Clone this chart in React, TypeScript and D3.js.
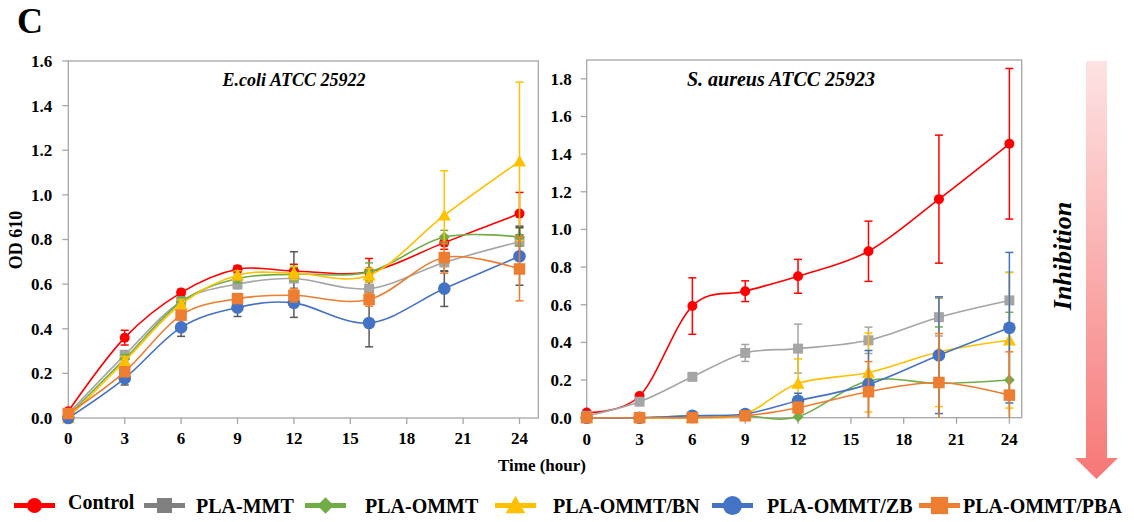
import React from 'react';
import * as d3 from 'd3';

// sampling times (hour)
const times = [0, 3, 6, 9, 12, 16, 20, 24];
const xTicks = [0, 3, 6, 9, 12, 15, 18, 21, 24];

const seriesNames = ['Control', 'PLA-MMT', 'PLA-OMMT', 'PLA-OMMT/BN', 'PLA-OMMT/ZB', 'PLA-OMMT/PBA'];
const seriesColors = ['#ff0000', '#a5a5a5', '#70ad47', '#ffc000', '#4472c4', '#ed7d31'];
const seriesShapes = ['circle', 'square', 'diamond', 'triangle', 'bigcircle', 'bigsquare'];

// E.coli ATCC 25922
const ecoliControl = [0.03, 0.36, 0.562, 0.667, 0.659, 0.655, 0.786, 0.916];
const ecoliMMT = [0.02, 0.282, 0.523, 0.6, 0.625, 0.58, 0.697, 0.79];
const ecoliOMMT = [0.01, 0.265, 0.52, 0.625, 0.645, 0.655, 0.811, 0.811];
const ecoliBN = [0.0, 0.255, 0.51, 0.64, 0.65, 0.64, 0.908, 1.15];
const ecoliZB = [0.0, 0.178, 0.406, 0.495, 0.516, 0.426, 0.58, 0.725];
const ecoliPBA = [0.02, 0.207, 0.461, 0.535, 0.55, 0.531, 0.719, 0.668];

const ecoliControlErr = [0.01, 0.033, 0.015, 0.015, 0.03, 0.06, 0.03, 0.095];
const ecoliMMTErr = [0.01, 0.02, 0.02, 0.02, 0.12, 0.03, 0.04, 0.07];
const ecoliOMMTErr = [0.01, 0.02, 0.02, 0.02, 0.03, 0.04, 0.03, 0.04];
const ecoliBNErr = [0.01, 0.02, 0.02, 0.02, 0.03, 0.03, 0.2, 0.355];
const ecoliZBErr = [0.01, 0.03, 0.04, 0.04, 0.065, 0.107, 0.08, 0.13];
const ecoliPBAErr = [0.01, 0.02, 0.02, 0.02, 0.03, 0.03, 0.07, 0.143];

// S. aureus ATCC 25923
const aureusControl = [0.028, 0.115, 0.593, 0.672, 0.751, 0.884, 1.161, 1.455];
const aureusMMT = [0.01, 0.085, 0.217, 0.344, 0.367, 0.411, 0.534, 0.623];
const aureusOMMT = [0.0, 0.0, 0.01, 0.01, 0.005, 0.196, 0.182, 0.2];
const aureusBN = [0.0, 0.0, 0.0, 0.02, 0.182, 0.24, 0.349, 0.411];
const aureusZB = [0.0, 0.0, 0.01, 0.02, 0.09, 0.177, 0.332, 0.478];
const aureusPBA = [0.0, 0.0, 0.0, 0.01, 0.053, 0.138, 0.187, 0.12];

const aureusControlErr = [0.01, 0.01, 0.15, 0.055, 0.09, 0.16, 0.34, 0.4];
const aureusMMTErr = [0.005, 0.01, 0.01, 0.045, 0.13, 0.07, 0.1, 0.15];
const aureusOMMTErr = [0, 0, 0, 0, 0.005, 0.01, 0.3, 0.36];
const aureusBNErr = [0, 0, 0, 0.01, 0.13, 0.21, 0.29, 0.36];
const aureusZBErr = [0, 0, 0, 0.01, 0.04, 0.18, 0.31, 0.4];
const aureusPBAErr = [0, 0, 0, 0.01, 0.03, 0.16, 0.26, 0.23];

const FONT = '"Liberation Serif", "Times New Roman", serif';
const AXIS = '#a6a6a6';

function Marker({ shape, color, x, y, k = 1 }) {
  if (shape === 'circle') return <circle cx={x} cy={y} r={5 * k} fill={color} />;
  if (shape === 'bigcircle') return <circle cx={x} cy={y} r={6.3 * k} fill={color} />;
  if (shape === 'square') {
    const s = 10 * k;
    return <rect x={x - s / 2} y={y - s / 2} width={s} height={s} fill={color} />;
  }
  if (shape === 'bigsquare') {
    const s = 11.5 * k;
    return <rect x={x - s / 2} y={y - s / 2} width={s} height={s} fill={color} />;
  }
  if (shape === 'diamond') {
    const s = 5.5 * k;
    return <path d={`M${x},${y - s}L${x + s},${y}L${x},${y + s}L${x - s},${y}Z`} fill={color} />;
  }
  const s = 6.5 * k;
  return <path d={`M${x},${y - s}L${x + s},${y + s * 0.8}L${x - s},${y + s * 0.8}Z`} fill={color} />;
}

function Panel({ left, right, top, bottom, xMax, yMax, title, titleSize, series, errors, errColors, labelEnd, xLabelY }) {
  const x = d3.scaleLinear().domain([0, xMax]).range([left, right]);
  const y = d3.scaleLinear().domain([0, yMax]).range([bottom, top]);
  const yTicks = d3.range(0, yMax + 0.001, 0.2);
  const line = d3.line().x((d) => x(d[0])).y((d) => y(d[1])).curve(d3.curveCardinal.tension(0));

  return (
    <g>
      <rect x={left} y={top} width={right - left} height={bottom - top} fill="none" stroke={AXIS} strokeWidth={1.3} />
      {yTicks.map((t) => (
        <g key={'y' + t}>
          <line x1={left - 6} x2={left} y1={y(t)} y2={y(t)} stroke={AXIS} strokeWidth={1.3} />
          <text x={left - labelEnd} y={y(t)} dy="0.35em" textAnchor="end" fontSize={17} fontWeight="bold" fontFamily={FONT}>
            {t.toFixed(1)}
          </text>
        </g>
      ))}
      {xTicks.map((t) => (
        <g key={'x' + t}>
          <line x1={x(t)} x2={x(t)} y1={bottom} y2={bottom + 6} stroke={AXIS} strokeWidth={1.3} />
          <text x={x(t)} y={xLabelY} textAnchor="middle" fontSize={17} fontWeight="bold" fontFamily={FONT}>
            {t}
          </text>
        </g>
      ))}
      <text x={title.x} y={86} textAnchor="middle" fontSize={titleSize} fontWeight="bold" fontStyle="italic" fontFamily={FONT}>
        {title.text}
      </text>
      {series.map((vals, i) => {
        const pts = times.map((t, j) => [t, vals[j]]);
        const err = errors[i];
        return (
          <g key={'s' + i}>
            {pts.map((p, j) =>
              err[j] > 0 ? (
                <g key={'e' + j} stroke={errColors[i]} strokeWidth={1.5}>
                  <line x1={x(p[0])} x2={x(p[0])} y1={y(Math.max(0, p[1] - err[j]))} y2={y(p[1] + err[j])} />
                  <line x1={x(p[0]) - 4} x2={x(p[0]) + 4} y1={y(p[1] + err[j])} y2={y(p[1] + err[j])} />
                  {p[1] - err[j] >= 0 && (
                    <line x1={x(p[0]) - 4} x2={x(p[0]) + 4} y1={y(p[1] - err[j])} y2={y(p[1] - err[j])} />
                  )}
                </g>
              ) : null
            )}
            <path d={line(pts)} fill="none" stroke={seriesColors[i]} strokeWidth={1.6} />
            {pts.map((p, j) => (
              <Marker key={'m' + j} shape={seriesShapes[i]} color={seriesColors[i]} x={x(p[0])} y={y(p[1])} />
            ))}
          </g>
        );
      })}
    </g>
  );
}

const legendLineX = [14, 144, 305, 495, 712, 919];
const legendTextX = [68, 196, 365, 553, 767, 963];

export default function App() {
  const ecoli = [ecoliControl, ecoliMMT, ecoliOMMT, ecoliBN, ecoliZB, ecoliPBA];
  const ecoliErr = [ecoliControlErr, ecoliMMTErr, ecoliOMMTErr, ecoliBNErr, ecoliZBErr, ecoliPBAErr];
  const aureus = [aureusControl, aureusMMT, aureusOMMT, aureusBN, aureusZB, aureusPBA];
  const aureusErr = [aureusControlErr, aureusMMTErr, aureusOMMTErr, aureusBNErr, aureusZBErr, aureusPBAErr];
  const leftErrColors = ['#ff0000', '#595959', '#70ad47', '#ffc000', '#595959', '#ed7d31'];

  return (
    <svg width={1134} height={522} style={{ position: 'absolute', left: 0, top: 0, background: '#fff' }}>
      <defs>
        <linearGradient id="arrowGrad" x1="0" y1="0" x2="0" y2="1">
          <stop offset="0%" stopColor="#fde3e3" />
          <stop offset="100%" stopColor="#f77777" />
        </linearGradient>
      </defs>
      <text x={17} y={33} fontSize={36} fontWeight="bold" fontFamily={FONT}>C</text>

      <Panel
        left={68.3} right={538.3} top={61} bottom={418} xMax={25} yMax={1.6}
        title={{ text: 'E.coli ATCC 25922', x: 294 }} titleSize={18}
        series={ecoli} errors={ecoliErr} errColors={leftErrColors} labelEnd={16} xLabelY={444}
      />
      <Panel
        left={586.7} right={1021.7} top={60} bottom={417.7} xMax={24.7} yMax={1.9}
        title={{ text: 'S. aureus ATCC 25923', x: 781 }} titleSize={20}
        series={aureus} errors={aureusErr} errColors={seriesColors} labelEnd={15} xLabelY={445}
      />

      <text transform="translate(22,240) rotate(-90)" textAnchor="middle" fontSize={18} fontWeight="bold" fontFamily={FONT}>OD 610</text>
      <text x={542} y={471} textAnchor="middle" fontSize={17} fontWeight="bold" fontFamily={FONT}>Time (hour)</text>

      <path d="M1086,61H1107V458H1118L1096.5,479L1075,458H1086Z" fill="url(#arrowGrad)" />
      <text transform="translate(1071,256) rotate(-90)" textAnchor="middle" fontSize={26} fontWeight="bold" fontStyle="italic" fontFamily={FONT}>Inhibition</text>

      {seriesNames.map((name, i) => (
        <g key={name}>
          <line x1={legendLineX[i]} x2={legendLineX[i] + 41} y1={505.5} y2={505.5} stroke={i === 1 ? '#808080' : seriesColors[i]} strokeWidth={5} />
          <Marker shape={seriesShapes[i]} color={i === 1 ? '#808080' : seriesColors[i]} x={legendLineX[i] + 20.5} y={505.5} k={1.5} />
          <text x={legendTextX[i]} y={i === 0 ? 509 : 513} fontSize={20} fontWeight="bold" fontFamily={FONT}>{name}</text>
        </g>
      ))}
    </svg>
  );
}
